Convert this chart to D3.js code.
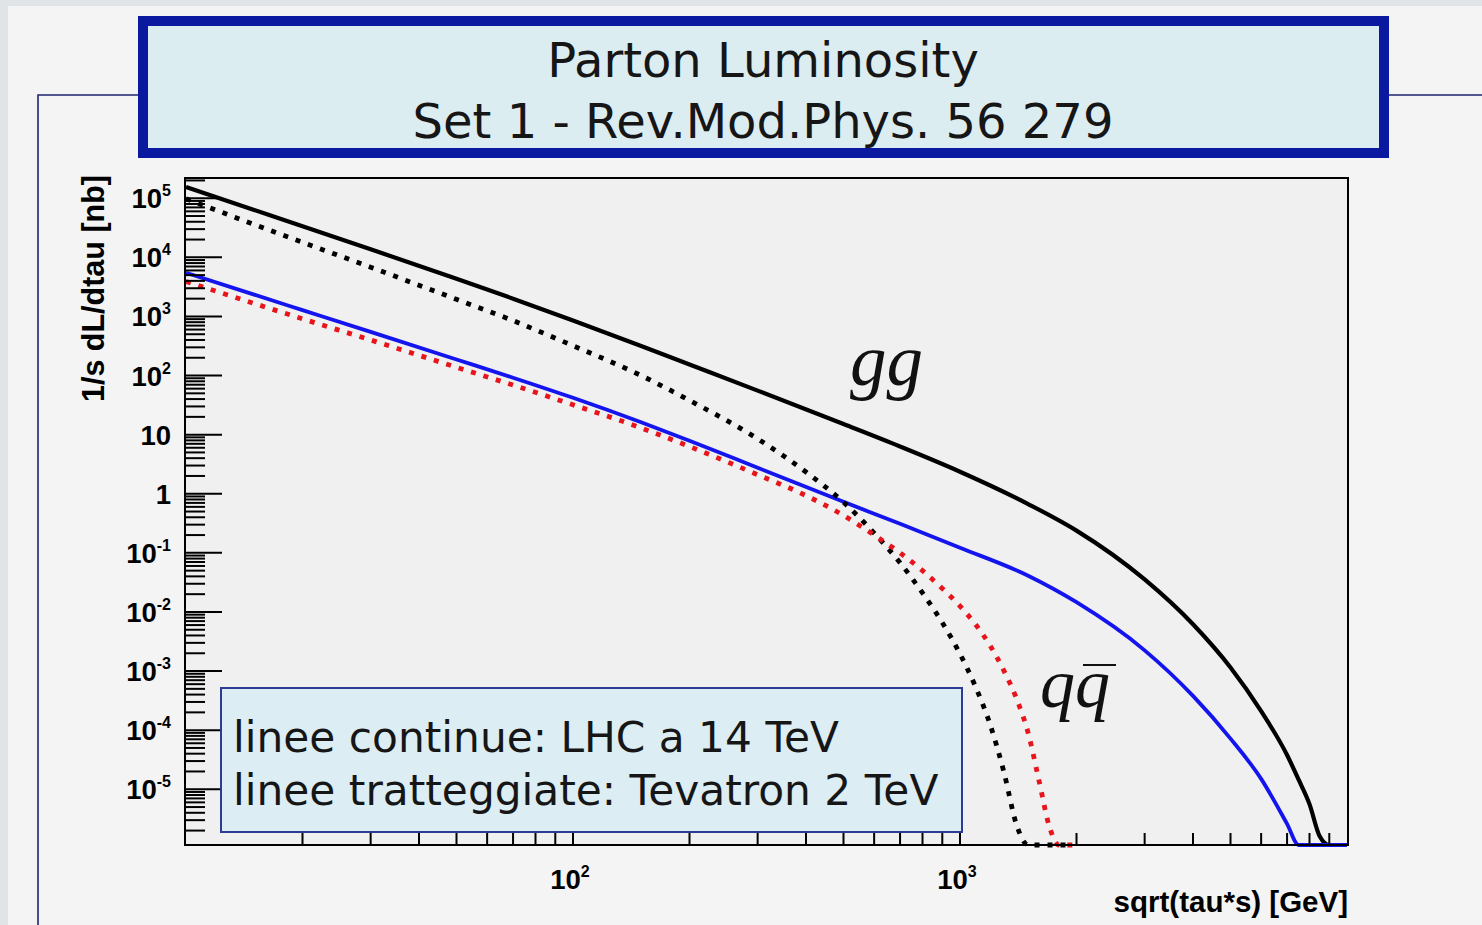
<!DOCTYPE html>
<html>
<head>
<meta charset="utf-8">
<script src="https://cdn.jsdelivr.net/npm/d3@7"></script>
<style>
  html, body { margin: 0; padding: 0; background: #f3f3f3; }
  svg { display: block; }
</style>
</head>
<body>
<svg id="chart" width="1482" height="925"></svg>
<script>
// sqrt(tau*s) grid [GeV] and parton luminosities 1/s dL/dtau [nb]
const sqrtShatLHC = [10, 15, 20, 30, 50, 70, 100, 150, 200, 300, 500, 700, 1000, 1500, 2000, 3000, 4000, 5000, 6000, 7000, 7500, 8000, 8500, 9000, 10000];
const ggLHC =      [1.55e5, 6.35e4, 3.37e4, 1.37e4, 4.34e3, 2.0e3, 855, 317, 154, 55.6, 15.1, 6.3, 2.36, 0.67, 0.238, 0.0355, 6.2e-3, 1.15e-3, 2.1e-4, 3.8e-5, 1.45e-5, 5.6e-6, 1.6e-6, 3e-7, 5e-9];
const qqbarLHC =   [5.5e3, 2.34e3, 1.28e3, 547, 187, 92, 42, 16.2, 7.9, 2.75, 0.73, 0.31, 0.122, 0.041, 0.0146, 2.24e-3, 3.8e-4, 7.2e-5, 1.5e-5, 2.6e-6, 1.0e-6, 3e-7, 8e-8, 2e-8, 1e-9];

const sqrtShatTev = [10, 15, 20, 30, 50, 70, 100, 150, 200, 300, 400, 500, 600, 700, 800, 900, 1000, 1100, 1200, 1300, 1400, 1500, 1600, 1700, 1800, 1960];
const ggTev =       [9.8e4, 3.6e4, 1.8e4, 6.8e3, 1.95e3, 850, 320, 100, 38, 8.5, 2.33, 0.72, 0.216, 0.068, 0.021, 6.6e-3, 1.95e-3, 5.2e-4, 1.17e-4, 1.9e-5, 2.5e-6, 3.2e-7, 5e-8, 8e-9, 1e-9, 1e-10];
const qqbarTev =    [3.9e3, 1.66e3, 910, 400, 138, 69, 32, 13, 6.3, 2.1, 0.93, 0.43, 0.2, 0.1, 0.05, 0.025, 0.0126, 6e-3, 2.6e-3, 1e-3, 3.4e-4, 9e-5, 1.4e-5, 2.4e-6, 5e-7, 1e-9];

// axis settings
const xLimits = [10, 10000];
const yLimits = [1.14e-6, 2.2e5];
const xLabelTicks = [100, 1000];
const yDecadeExponents = [-5, -4, -3, -2, -1, 0, 1, 2, 3, 4, 5];

const titleLines = ["Parton Luminosity", "Set 1 - Rev.Mod.Phys. 56 279"];
const legendLines = ["linee continue: LHC a 14 TeV", "linee tratteggiate: Tevatron 2 TeV"];
const xTitle = "sqrt(tau*s) [GeV]";
const yTitle = "1/s dL/dtau [nb]";

const svg = d3.select("#chart");
const W = 1482, H = 925;
const frame = { left: 185, right: 1348, top: 178, bottom: 845 };

// slide background
svg.append("rect").attr("width", W).attr("height", H).attr("fill", "#e1e4e7");
svg.append("rect").attr("x", 8).attr("y", 6).attr("width", W - 8).attr("height", H - 6).attr("fill", "#f4f4f4");
svg.append("path").attr("d", "M38,925 V95 H140 M1388,95 H1482")
  .attr("fill", "none").attr("stroke", "#1f2570").attr("stroke-width", 1.6);

// plot pad
svg.append("rect")
  .attr("x", frame.left).attr("y", frame.top)
  .attr("width", frame.right - frame.left).attr("height", frame.bottom - frame.top)
  .attr("fill", "#f0f0f0");

const x = d3.scaleLog().domain(xLimits).range([186, 1347]);
const y = d3.scaleLog().domain(yLimits).range([frame.bottom, frame.top]);

// curves
svg.append("clipPath").attr("id", "plotClip")
  .append("rect").attr("x", frame.left).attr("y", frame.top)
  .attr("width", frame.right - frame.left).attr("height", frame.bottom - frame.top + 3);

const curves = svg.append("g").attr("clip-path", "url(#plotClip)");
const line = d3.line()
  .x(d => x(d[0]))
  .y(d => y(Math.max(d[1], yLimits[0])))
  .curve(d3.curveMonotoneX);

const series = [
  { xs: sqrtShatLHC, ys: ggLHC, color: "#000000", width: 4.2, dash: null },
  { xs: sqrtShatLHC, ys: qqbarLHC, color: "#1414ee", width: 3.8, dash: null },
  { xs: sqrtShatTev, ys: ggTev, color: "#000000", width: 4.8, dash: "5 8" },
  { xs: sqrtShatTev, ys: qqbarTev, color: "#e8141c", width: 4.8, dash: "5 8" }
];
series.forEach(s => {
  curves.append("path")
    .attr("d", line(s.xs.map((v, i) => [v, s.ys[i]])))
    .attr("fill", "none")
    .attr("stroke", s.color)
    .attr("stroke-width", s.width)
    .attr("stroke-dasharray", s.dash)
    .attr("stroke-linejoin", "round");
});

// y axis ticks (major at decades, minor at 2..9)
const yAxis = svg.append("g").attr("stroke", "#000").attr("stroke-width", 2);
for (let e = -7; e <= 6; e++) {
  for (let m = 1; m <= 9; m++) {
    const v = m * Math.pow(10, e);
    if (v < yLimits[0] || v > yLimits[1]) continue;
    const len = m === 1 ? 37 : 20;
    const py = y(v);
    yAxis.append("line").attr("x1", frame.left).attr("x2", frame.left + len)
      .attr("y1", py).attr("y2", py);
  }
}
// x axis ticks
const xAxis = svg.append("g").attr("stroke", "#000").attr("stroke-width", 2);
for (let e = 1; e <= 4; e++) {
  for (let m = 1; m <= 9; m++) {
    const v = m * Math.pow(10, e);
    if (v <= xLimits[0] || v >= xLimits[1]) continue;
    const len = m === 1 ? 24 : 12;
    const px = x(v);
    xAxis.append("line").attr("x1", px).attr("x2", px)
      .attr("y1", frame.bottom).attr("y2", frame.bottom - len);
  }
}

// frame
svg.append("rect")
  .attr("x", frame.left).attr("y", frame.top)
  .attr("width", frame.right - frame.left).attr("height", frame.bottom - frame.top)
  .attr("fill", "none").attr("stroke", "#000").attr("stroke-width", 2);

// tick labels
const labelFont = "'Liberation Sans', Arial, sans-serif";
function powerLabel(sel, e) {
  if (e === 0) { sel.append("tspan").text("1"); return; }
  if (e === 1) { sel.append("tspan").text("10"); return; }
  sel.append("tspan").text("10");
  sel.append("tspan").attr("dy", -12).attr("font-size", 16).text(String(e));
}
yDecadeExponents.forEach(e => {
  const t = svg.append("text")
    .attr("x", 171).attr("y", y(Math.pow(10, e)) + 10)
    .attr("text-anchor", "end")
    .attr("font-family", labelFont).attr("font-weight", "bold").attr("font-size", 27.5)
    .attr("fill", "#000");
  powerLabel(t, e);
});
xLabelTicks.forEach(v => {
  const e = Math.round(Math.log10(v));
  const t = svg.append("text")
    .attr("x", x(v) - 3).attr("y", 889)
    .attr("text-anchor", "middle")
    .attr("font-family", labelFont).attr("font-weight", "bold").attr("font-size", 27.5)
    .attr("fill", "#000");
  powerLabel(t, e);
});

// axis titles
svg.append("text")
  .attr("x", frame.right).attr("y", 912)
  .attr("text-anchor", "end")
  .attr("font-family", labelFont).attr("font-weight", "bold").attr("font-size", 29.5)
  .attr("fill", "#000").text(xTitle);
svg.append("text")
  .attr("transform", "translate(104,175) rotate(-90)")
  .attr("text-anchor", "end")
  .attr("font-family", labelFont).attr("font-weight", "bold").attr("font-size", 30.5)
  .attr("fill", "#000").text(yTitle);

// curve labels
const mathFont = "'Liberation Serif', 'Times New Roman', serif";
svg.append("text")
  .attr("x", 850).attr("y", 385)
  .attr("font-family", mathFont).attr("font-style", "italic").attr("font-size", 73)
  .attr("fill", "#111").text("gg");
const qq = svg.append("text")
  .attr("x", 1040).attr("y", 707)
  .attr("font-family", mathFont).attr("font-style", "italic").attr("font-size", 70)
  .attr("fill", "#111").text("qq");
const qNode = qq.node();
const q2start = qNode.getStartPositionOfChar(1).x;
const q2end = qNode.getEndPositionOfChar(1).x;
svg.append("line")
  .attr("x1", q2start + 8).attr("x2", q2end + 6)
  .attr("y1", 665).attr("y2", 665)
  .attr("stroke", "#111").attr("stroke-width", 2.2);

// legend box
const textFont = "'DejaVu Sans', Verdana, sans-serif";
svg.append("rect")
  .attr("x", 221).attr("y", 688).attr("width", 741).attr("height", 144)
  .attr("fill", "#dcedf3").attr("stroke", "#2d3a96").attr("stroke-width", 2);
legendLines.forEach((s, i) => {
  svg.append("text")
    .attr("x", 233).attr("y", 752 + i * 53)
    .attr("font-family", textFont).attr("font-size", 42.3)
    .attr("fill", "#161616").text(s);
});

// title box
svg.append("rect")
  .attr("x", 143).attr("y", 21).attr("width", 1241).attr("height", 132)
  .attr("fill", "#dcedf2").attr("stroke", "#0b18a0").attr("stroke-width", 10);
titleLines.forEach((s, i) => {
  svg.append("text")
    .attr("x", 763).attr("y", 77 + i * 61)
    .attr("text-anchor", "middle")
    .attr("font-family", textFont).attr("font-size", 48)
    .attr("fill", "#161616").text(s);
});
</script>
</body>
</html>
